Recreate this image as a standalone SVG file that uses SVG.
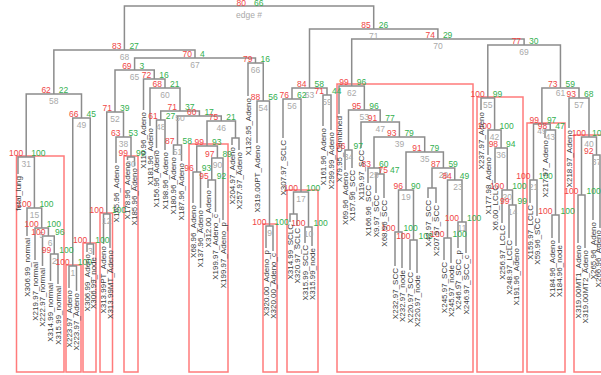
<svg xmlns="http://www.w3.org/2000/svg" width="601" height="375" viewBox="0 0 601 375">
<style>
text{font-family:"Liberation Sans",Arial,sans-serif}
.au{font-size:8.5px;fill:#f04646;text-anchor:end}
.bp{font-size:8.5px;fill:#33b04f;text-anchor:start}
.ed{font-size:8.5px;fill:#a9a9a9;text-anchor:middle}
.lf{font-size:8px;fill:#3a3a3a;text-anchor:end;dominant-baseline:central}
.cn path{fill:none;stroke:#8c8c8c;stroke-width:1.5}
.bx rect{fill:none;stroke:#ff7b7b;stroke-width:1.5}
</style>
<rect width="601" height="375" fill="#fff"/>
<g id="boxes" class="bx">
<rect x="16.5" y="156" width="47.5" height="216"/>
<rect x="66" y="265" width="15" height="107"/>
<rect x="83" y="243" width="13" height="129"/>
<rect x="100" y="213" width="12.5" height="159"/>
<rect x="124" y="156" width="14" height="216"/>
<rect x="189" y="144" width="39" height="228"/>
<rect x="263" y="224" width="14" height="148"/>
<rect x="287" y="190" width="31" height="182"/>
<rect x="337" y="84" width="136" height="288"/>
<rect x="477" y="97" width="46" height="275"/>
<rect x="527" y="123" width="38" height="249"/>
<rect x="574" y="135" width="40" height="237"/>
</g>
<g id="connectors" class="cn">
<path d="M124.4 50V6H373.7V29"/>
<path d="M53.85 94V50H195V58"/>
<path d="M26.2 157V94H81.5V118"/>
<path d="M18 174V157H34.4V208"/>
<path d="M27 236V208H41.7V228"/>
<path d="M35 260V228H48.4V236"/>
<path d="M42.5 266V236H54.25V254"/>
<path d="M50.5 281V254H58V284"/>
<path d="M72.75 266V118H90.25V244"/>
<path d="M69 288V266H76.5V291"/>
<path d="M87 252V244H93.5V255"/>
<path d="M134.6 70V58H255.5V63"/>
<path d="M115 112V70H154.25V79"/>
<path d="M106.75 214V112H123.5V137"/>
<path d="M103.5 244V214H110V248"/>
<path d="M116 163V137H131V157"/>
<path d="M127.5 160V157H134.5V166"/>
<path d="M143.5 110V79H165V88"/>
<path d="M150 126V88H180V111"/>
<path d="M160.75 120V111H199.4V116"/>
<path d="M156.5 148V120H165V150"/>
<path d="M177.5 145V116H221.25V121"/>
<path d="M173.5 155V145H181.5V161"/>
<path d="M207 146V121H235.5V138"/>
<path d="M196.75 172V146H217.4V158"/>
<path d="M193 203V172H200.5V208"/>
<path d="M211.75 180V158H223V220"/>
<path d="M208 188V180H215.5V212"/>
<path d="M232 145V138H239V150"/>
<path d="M248 96V63H263.25V101"/>
<path d="M257 143V101H269.5V226"/>
<path d="M266 248V226H273V251"/>
<path d="M309.5 88V29H437.9V39"/>
<path d="M292 99V88H327V95"/>
<path d="M283 138V99H301V192"/>
<path d="M293.5 214V192H308.5V227"/>
<path d="M290 222V214H297V226"/>
<path d="M305 243V227H312V246"/>
<path d="M323 126V95H331V130"/>
<path d="M351.7 86V39H524.1V45"/>
<path d="M339 114V86H364.35V110"/>
<path d="M348.5 150V110H380.2V122"/>
<path d="M345 170V150H352V168"/>
<path d="M361 148V122H399.4V137"/>
<path d="M374 168V137H424.7V152"/>
<path d="M368 183V168H380V174"/>
<path d="M376 193V174H384V198"/>
<path d="M406 190V152H443.4V168"/>
<path d="M398.5 232V190H413.5V240"/>
<path d="M395 266V232H402V268"/>
<path d="M410 270V240H417V273"/>
<path d="M432 188V168H454.75V180"/>
<path d="M428 198V188H436V203"/>
<path d="M447.5 238V180H462V222"/>
<path d="M444 260V238H451V263"/>
<path d="M458 248V222H466V253"/>
<path d="M487.8 98V45H560.45V88"/>
<path d="M481 110V98H494.6V130"/>
<path d="M488 155V130H501.1V148"/>
<path d="M495 183V148H507.25V190"/>
<path d="M502 223V190H512.5V205"/>
<path d="M509 238V205H516V246"/>
<path d="M541.9 124V88H579V98"/>
<path d="M533.5 180V124H550.25V130"/>
<path d="M530 203V180H537V216"/>
<path d="M545 138V130H555.5V215"/>
<path d="M552 238V215H559V243"/>
<path d="M569 128V98H589V137"/>
<path d="M581.5 195V137H596.5V155"/>
<path d="M578 243V195H585V248"/>
<path d="M593 220V155H600V228"/>
</g>
<g id="root"><text class="au" x="246" y="5.5">80</text><text class="bp" x="254" y="5.5">66</text><text class="ed" x="249" y="17.5">edge #</text></g>
<g id="n68"><text class="au" x="121.4" y="48.5">83</text><text class="bp" x="129.4" y="48.5">27</text><text class="ed" x="124.4" y="60">68</text></g>
<g id="n58"><text class="au" x="50.85" y="92.5">62</text><text class="bp" x="58.85" y="92.5">22</text><text class="ed" x="53.85" y="104">58</text></g>
<g id="n31"><text class="au" x="23.2" y="155.5">100</text><text class="bp" x="31.2" y="155.5">100</text><text class="ed" x="26.2" y="167">31</text></g>
<g id="n15"><text class="au" x="31.4" y="206.5">100</text><text class="bp" x="39.4" y="206.5">100</text><text class="ed" x="34.4" y="218">15</text></g>
<g id="n5"><text class="au" x="38.7" y="226.5">100</text><text class="bp" x="46.7" y="226.5">100</text><text class="ed" x="41.7" y="238">5</text></g>
<g id="n6"><text class="au" x="45.4" y="234.5">100</text><text class="bp" x="55" y="234.5">96</text><text class="ed" x="50" y="246">6</text></g>
<g id="n2"><text class="au" x="51.25" y="252.5">99</text><text class="bp" x="59.25" y="252.5">100</text><text class="ed" x="54.25" y="264">2</text></g>
<g id="n49"><text class="au" x="78.5" y="116.5">66</text><text class="bp" x="86.5" y="116.5">45</text><text class="ed" x="81.5" y="128">49</text></g>
<g id="n1"><text class="au" x="69.75" y="264.5">100</text><text class="bp" x="77.75" y="264.5">100</text><text class="ed" x="72.75" y="276">1</text></g>
<g id="n3"><text class="au" x="87.25" y="242.5">100</text><text class="bp" x="95.25" y="242.5">100</text><text class="ed" x="90.25" y="254">3</text></g>
<g id="n67"><text class="au" x="192" y="56.5">70</text><text class="bp" x="200" y="56.5">4</text><text class="ed" x="195" y="68">67</text></g>
<g id="n65"><text class="au" x="131.6" y="68.5">69</text><text class="bp" x="139.6" y="68.5">3</text><text class="ed" x="134.6" y="80">65</text></g>
<g id="n52"><text class="au" x="112" y="110.5">71</text><text class="bp" x="120" y="110.5">39</text><text class="ed" x="115" y="122">52</text></g>
<g id="n12"><text class="au" x="103.75" y="212.5">100</text><text class="bp" x="111.75" y="212.5">100</text><text class="ed" x="106.75" y="224">12</text></g>
<g id="n38"><text class="au" x="120.5" y="135.5">63</text><text class="bp" x="128.5" y="135.5">53</text><text class="ed" x="123.5" y="147">38</text></g>
<g id="n30"><text class="au" x="128" y="155.5">99</text><text class="bp" x="136" y="155.5">99</text><text class="ed" x="131" y="167">30</text></g>
<g id="n64"><text class="au" x="151.25" y="77.5">72</text><text class="bp" x="159.25" y="77.5">16</text></g>
<g id="n60"><text class="au" x="162" y="86.5">68</text><text class="bp" x="170" y="86.5">21</text><text class="ed" x="165" y="98">60</text></g>
<g id="n50"><text class="au" x="177" y="109.5">71</text><text class="bp" x="185" y="109.5">37</text><text class="ed" x="180" y="121">50</text></g>
<g id="n48"><text class="au" x="157.75" y="118.5">61</text><text class="bp" x="165.75" y="118.5">27</text><text class="ed" x="160.75" y="130">48</text></g>
<g id="n47a"><text class="au" x="196.4" y="114.5">60</text><text class="bp" x="204.4" y="114.5">17</text></g>
<g id="n51"><text class="au" x="174.5" y="143.5">87</text><text class="bp" x="182.5" y="143.5">58</text><text class="ed" x="177.5" y="155">51</text></g>
<g id="n46"><text class="au" x="218.25" y="119.5">75</text><text class="bp" x="226.25" y="119.5">21</text><text class="ed" x="221.25" y="131">46</text></g>
<g id="nb6"><text class="au" x="204" y="144.5">99</text><text class="bp" x="212" y="144.5">93</text></g>
<g id="nb6a"><text class="au" x="193.75" y="170.5">96</text><text class="bp" x="201.75" y="170.5">93</text></g>
<g id="n90"><text class="au" x="214.4" y="156.5">97</text><text class="bp" x="222.4" y="156.5">89</text><text class="ed" x="217.4" y="168">90</text></g>
<g id="nb6b"><text class="au" x="208.75" y="178.5">95</text><text class="bp" x="216.75" y="178.5">92</text></g>
<g id="n66"><text class="au" x="252.5" y="61.5">79</text><text class="bp" x="260.5" y="61.5">16</text><text class="ed" x="255.5" y="73">66</text></g>
<g id="n54"><text class="au" x="260.25" y="99.5">88</text><text class="bp" x="268.25" y="99.5">56</text><text class="ed" x="263.25" y="111">54</text></g>
<g id="n9"><text class="au" x="266.5" y="224.5">100</text><text class="bp" x="274.5" y="224.5">100</text><text class="ed" x="269.5" y="236">9</text></g>
<g id="n71"><text class="au" x="370.7" y="27.5">85</text><text class="bp" x="378.7" y="27.5">26</text><text class="ed" x="373.7" y="39">71</text></g>
<g id="n63"><text class="au" x="306.5" y="86.5">84</text><text class="bp" x="314.5" y="86.5">58</text><text class="ed" x="309.5" y="98">63</text></g>
<g id="n56"><text class="au" x="289" y="97.5">76</text><text class="bp" x="297" y="97.5">62</text><text class="ed" x="292" y="109">56</text></g>
<g id="n17"><text class="au" x="298" y="190.5">100</text><text class="bp" x="306" y="190.5">100</text><text class="ed" x="301" y="202">17</text></g>
<g id="n10"><text class="au" x="305.5" y="225.5">100</text><text class="bp" x="313.5" y="225.5">100</text><text class="ed" x="308.5" y="237">10</text></g>
<g id="n59"><text class="au" x="324" y="93.5">71</text><text class="bp" x="332" y="93.5">44</text><text class="ed" x="327" y="105">59</text></g>
<g id="n70"><text class="au" x="434.9" y="37.5">74</text><text class="bp" x="442.9" y="37.5">29</text><text class="ed" x="437.9" y="49">70</text></g>
<g id="n62"><text class="au" x="348.7" y="84.5">99</text><text class="bp" x="356.7" y="84.5">96</text><text class="ed" x="351.7" y="96">62</text></g>
<g id="n53"><text class="au" x="361.35" y="108.5">95</text><text class="bp" x="369.35" y="108.5">96</text><text class="ed" x="364.35" y="120">53</text></g>
<g id="n34"><text class="au" x="345.5" y="148.5">96</text><text class="bp" x="353.5" y="148.5">97</text><text class="ed" x="348.5" y="160">34</text></g>
<g id="n47"><text class="au" x="377.2" y="120.5">91</text><text class="bp" x="385.2" y="120.5">77</text><text class="ed" x="380.2" y="132">47</text></g>
<g id="n39"><text class="au" x="396.4" y="135.5">93</text><text class="bp" x="404.4" y="135.5">79</text><text class="ed" x="399.4" y="147">39</text></g>
<g id="n25"><text class="au" x="371" y="166.5">83</text><text class="bp" x="379" y="166.5">60</text><text class="ed" x="374" y="178">25</text></g>
<g id="n75"><text class="au" x="388" y="172.5">75</text><text class="bp" x="390" y="172.5">47</text></g>
<g id="n35"><text class="au" x="421.7" y="150.5">91</text><text class="bp" x="429.7" y="150.5">79</text><text class="ed" x="424.7" y="162">35</text></g>
<g id="n19"><text class="au" x="403" y="188.5">96</text><text class="bp" x="411" y="188.5">90</text><text class="ed" x="406" y="200">19</text></g>
<g id="na"><text class="au" x="395.5" y="230.5">100</text><text class="bp" x="403.5" y="230.5">100</text></g>
<g id="nb"><text class="au" x="410.5" y="239">100</text><text class="bp" x="418.5" y="239">100</text></g>
<g id="n29"><text class="au" x="440.4" y="166.5">87</text><text class="bp" x="448.4" y="166.5">59</text><text class="ed" x="443.4" y="178">29</text></g>
<g id="n23"><text class="au" x="451.75" y="178.5">84</text><text class="bp" x="459.75" y="178.5">49</text><text class="ed" x="458" y="190">23</text></g>
<g id="ne"><text class="au" x="444.5" y="237">100</text><text class="bp" x="452.5" y="237">100</text></g>
<g id="n11"><text class="au" x="459" y="220.5">100</text><text class="bp" x="467" y="220.5">100</text><text class="ed" x="462" y="230.5">11</text></g>
<g id="n69"><text class="au" x="521.1" y="43.5">77</text><text class="bp" x="529.1" y="43.5">30</text><text class="ed" x="524.1" y="55">69</text></g>
<g id="n55"><text class="au" x="484.8" y="96.5">100</text><text class="bp" x="492.8" y="96.5">99</text><text class="ed" x="487.8" y="108">55</text></g>
<g id="n42"><text class="au" x="491.6" y="128.5">100</text><text class="bp" x="499.6" y="128.5">100</text><text class="ed" x="494.6" y="140">42</text></g>
<g id="n36"><text class="au" x="498.1" y="146.5">98</text><text class="bp" x="506.1" y="146.5">94</text><text class="ed" x="501.1" y="158">36</text></g>
<g id="n20"><text class="au" x="504.25" y="188.5">100</text><text class="bp" x="512.25" y="188.5">100</text><text class="ed" x="507.25" y="200">20</text></g>
<g id="n14"><text class="au" x="509.5" y="203.5">99</text><text class="bp" x="517.5" y="203.5">99</text><text class="ed" x="512.5" y="215">14</text></g>
<g id="n61"><text class="au" x="557.45" y="86.5">73</text><text class="bp" x="565.45" y="86.5">59</text><text class="ed" x="560.45" y="96">61</text></g>
<g id="n49b"><text class="au" x="538.9" y="122.5">99</text><text class="bp" x="546.9" y="122.5">97</text><text class="ed" x="541.9" y="134">49</text></g>
<g id="n21"><text class="au" x="530.5" y="178.5">100</text><text class="bp" x="538.5" y="178.5">100</text><text class="ed" x="533.5" y="190">21</text></g>
<g id="n43"><text class="au" x="547.25" y="128.5">98</text><text class="bp" x="555.25" y="128.5">47</text><text class="ed" x="550.25" y="140">43</text></g>
<g id="nx"><text class="au" x="552.5" y="213.5">100</text><text class="bp" x="560.5" y="213.5">100</text></g>
<g id="n57"><text class="au" x="576" y="96.5">93</text><text class="bp" x="584" y="96.5">68</text><text class="ed" x="579" y="108">57</text></g>
<g id="n40"><text class="au" x="586" y="135.5">100</text><text class="bp" x="592" y="135.5">100</text><text class="ed" x="589" y="147">40</text></g>
<g id="ny"><text class="au" x="578.5" y="193.5">100</text><text class="bp" x="586.5" y="193.5">100</text></g>
<g id="n37"><text class="au" x="593.5" y="153.5">92</text><text class="ed" x="596.5" y="165">37</text></g>
<g id="leaves">
<g id="l1"><text class="lf" transform="translate(18 176) rotate(-90)">fetal_lung</text></g>
<g id="l2"><text class="lf" transform="translate(27 238) rotate(-90)">X306.99_normal</text></g>
<g id="l3"><text class="lf" transform="translate(35 262) rotate(-90)">X219.97_normal</text></g>
<g id="l4"><text class="lf" transform="translate(42.5 268) rotate(-90)">X222.97_normal</text></g>
<g id="l5"><text class="lf" transform="translate(50.5 283) rotate(-90)">X314.99_normal</text></g>
<g id="l6"><text class="lf" transform="translate(58 286) rotate(-90)">X315.99_normal</text></g>
<g id="l7"><text class="lf" transform="translate(69 290) rotate(-90)">X223.97_Adeno</text></g>
<g id="l8"><text class="lf" transform="translate(76.5 293) rotate(-90)">X223.97_Adeno</text></g>
<g id="l9"><text class="lf" transform="translate(87 254) rotate(-90)">X306.99_Adeno</text></g>
<g id="l10"><text class="lf" transform="translate(93.5 257) rotate(-90)">X306.99_node</text></g>
<g id="l11"><text class="lf" transform="translate(103.5 246) rotate(-90)">X313.99PT_Adeno</text></g>
<g id="l12"><text class="lf" transform="translate(110 250) rotate(-90)">X313.99MT_Adeno</text></g>
<g id="l13"><text class="lf" transform="translate(116 165) rotate(-90)">X165.96_Adeno</text></g>
<g id="l14"><text class="lf" transform="translate(127.5 162) rotate(-90)">X178.96_Adeno</text></g>
<g id="l15"><text class="lf" transform="translate(134.5 168) rotate(-90)">X185.96_Adeno</text></g>
<g id="l16"><text class="lf" transform="translate(143.5 112) rotate(-90)">X110.96_Adeno</text></g>
<g id="l17"><text class="lf" transform="translate(150 128) rotate(-90)">X181.96_Adeno</text></g>
<g id="l18"><text class="lf" transform="translate(156.5 150) rotate(-90)">X156.96_Adeno</text></g>
<g id="l19"><text class="lf" transform="translate(165 152) rotate(-90)">X198.96_Adeno</text></g>
<g id="l20"><text class="lf" transform="translate(173.5 157) rotate(-90)">X180.96_Adeno</text></g>
<g id="l21"><text class="lf" transform="translate(181.5 163) rotate(-90)">X187.96_Adeno</text></g>
<g id="l22"><text class="lf" transform="translate(193 205) rotate(-90)">X68.96_Adeno</text></g>
<g id="l23"><text class="lf" transform="translate(200.5 210) rotate(-90)">X137.96_Adeno</text></g>
<g id="l24"><text class="lf" transform="translate(208 190) rotate(-90)">X312.00_Adeno</text></g>
<g id="l25"><text class="lf" transform="translate(215.5 214) rotate(-90)">X199.97_Adeno_c</text></g>
<g id="l26"><text class="lf" transform="translate(223 222) rotate(-90)">X199.97_Adeno_p</text></g>
<g id="l27"><text class="lf" transform="translate(232 147) rotate(-90)">X204.97_Adeno</text></g>
<g id="l28"><text class="lf" transform="translate(239 152) rotate(-90)">X257.97_Adeno</text></g>
<g id="l29"><text class="lf" transform="translate(248 98) rotate(-90)">X132.95_Adeno</text></g>
<g id="l30"><text class="lf" transform="translate(257 145) rotate(-90)">X319.00PT_Adeno</text></g>
<g id="l31"><text class="lf" transform="translate(266 250) rotate(-90)">X320.00_Adeno_p</text></g>
<g id="l32"><text class="lf" transform="translate(273 253) rotate(-90)">X320.00_Adeno_c</text></g>
<g id="l33"><text class="lf" transform="translate(283 140) rotate(-90)">X307.97_SCLC</text></g>
<g id="l34"><text class="lf" transform="translate(290 224) rotate(-90)">X314.99_SCLC</text></g>
<g id="l35"><text class="lf" transform="translate(297 228) rotate(-90)">X320.97_SCLC</text></g>
<g id="l36"><text class="lf" transform="translate(305 245) rotate(-90)">X315.99_SCLC</text></g>
<g id="l37"><text class="lf" transform="translate(312 248) rotate(-90)">X315.99_node</text></g>
<g id="l38"><text class="lf" transform="translate(323 128) rotate(-90)">X161.96_Adeno</text></g>
<g id="l39"><text class="lf" transform="translate(331 132) rotate(-90)">X299.99_Adeno</text></g>
<g id="l40"><text class="lf" transform="translate(339 116) rotate(-90)">X79.95_Combined</text></g>
<g id="l41"><text class="lf" transform="translate(345 172) rotate(-90)">X69.96_Adeno</text></g>
<g id="l42"><text class="lf" transform="translate(352 170) rotate(-90)">X157.96_SCC</text></g>
<g id="l43"><text class="lf" transform="translate(361 150) rotate(-90)">X119.97_SCC</text></g>
<g id="l44"><text class="lf" transform="translate(368 185) rotate(-90)">X166.96_SCC</text></g>
<g id="l45"><text class="lf" transform="translate(376 195) rotate(-90)">X9.97_SCC</text></g>
<g id="l46"><text class="lf" transform="translate(384 200) rotate(-90)">X68.96_SCC</text></g>
<g id="l47"><text class="lf" transform="translate(395 268) rotate(-90)">X232.97_SCC</text></g>
<g id="l48"><text class="lf" transform="translate(402 270) rotate(-90)">X232.97_node</text></g>
<g id="l49"><text class="lf" transform="translate(410 272) rotate(-90)">X220.97_SCC</text></g>
<g id="l50"><text class="lf" transform="translate(417 275) rotate(-90)">X220.97_node</text></g>
<g id="l51"><text class="lf" transform="translate(428 200) rotate(-90)">X42.97_SCC</text></g>
<g id="l52"><text class="lf" transform="translate(436 205) rotate(-90)">X207.97_SCC</text></g>
<g id="l53"><text class="lf" transform="translate(444 262) rotate(-90)">X245.97_SCC</text></g>
<g id="l54"><text class="lf" transform="translate(451 265) rotate(-90)">X245.97_node</text></g>
<g id="l55"><text class="lf" transform="translate(458 250) rotate(-90)">X246.97_SCC_p</text></g>
<g id="l56"><text class="lf" transform="translate(466 255) rotate(-90)">X246.97_SCC_c</text></g>
<g id="l57"><text class="lf" transform="translate(481 112) rotate(-90)">X237.97_Adeno</text></g>
<g id="l58"><text class="lf" transform="translate(488 157) rotate(-90)">X177.98_Adeno</text></g>
<g id="l59"><text class="lf" transform="translate(495 185) rotate(-90)">X6.00_LCLC</text></g>
<g id="l60"><text class="lf" transform="translate(502 225) rotate(-90)">X256.97_LCLC</text></g>
<g id="l61"><text class="lf" transform="translate(509 240) rotate(-90)">X248.97_LCLC</text></g>
<g id="l62"><text class="lf" transform="translate(516 248) rotate(-90)">X191.96_Adeno</text></g>
<g id="l63"><text class="lf" transform="translate(530 205) rotate(-90)">X159.97_LCLC</text></g>
<g id="l64"><text class="lf" transform="translate(537 218) rotate(-90)">X59.96_SCC</text></g>
<g id="l65"><text class="lf" transform="translate(545 140) rotate(-90)">X217.97_Adeno</text></g>
<g id="l66"><text class="lf" transform="translate(552 240) rotate(-90)">X184.96_Adeno</text></g>
<g id="l67"><text class="lf" transform="translate(559 245) rotate(-90)">X184.96_node</text></g>
<g id="l68"><text class="lf" transform="translate(569 130) rotate(-90)">X218.97_Adeno</text></g>
<g id="l69"><text class="lf" transform="translate(578 245) rotate(-90)">X319.00MT1_Adeno</text></g>
<g id="l70"><text class="lf" transform="translate(585 250) rotate(-90)">X319.00MT2_Adeno</text></g>
<g id="l71"><text class="lf" transform="translate(593 222) rotate(-90)">X265.96_Adeno</text></g>
<g id="l72"><text class="lf" transform="translate(598 230) rotate(-90)">X266.96_Adeno</text></g>
</g>
</svg>
